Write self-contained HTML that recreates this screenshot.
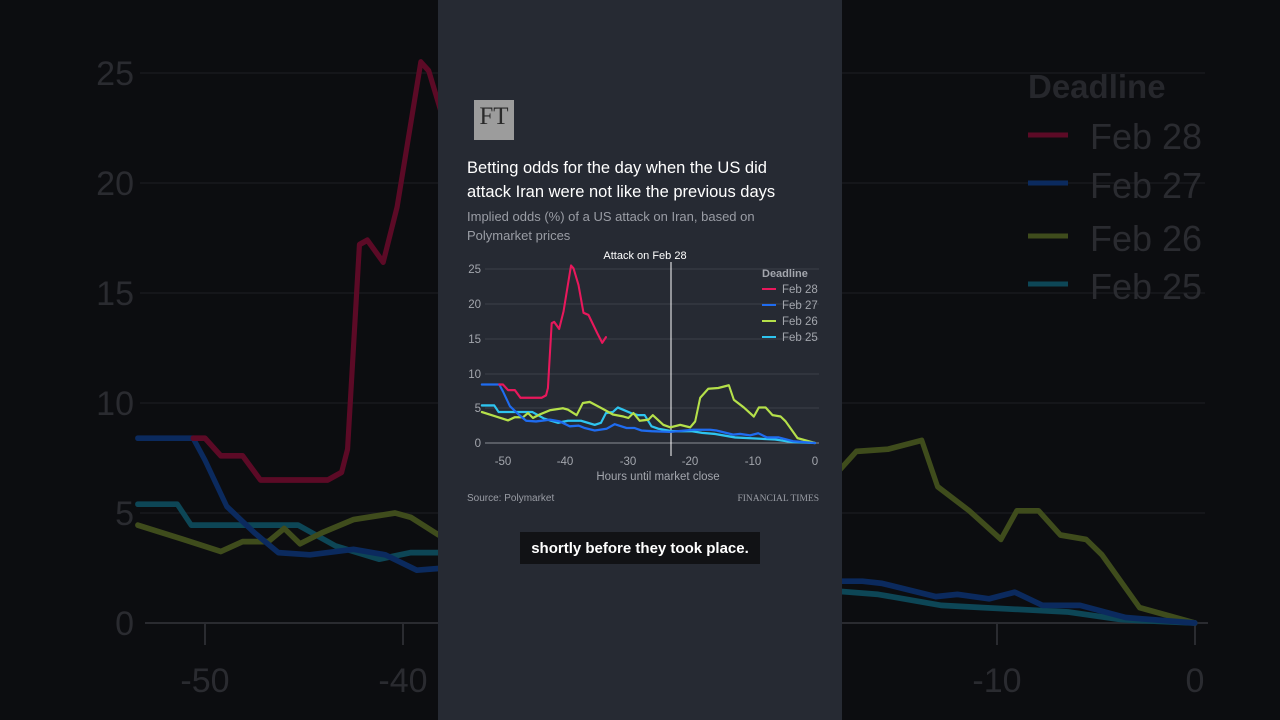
<!DOCTYPE html>
<html><head><meta charset="utf-8"><style>
html,body{margin:0;padding:0;width:1280px;height:720px;overflow:hidden;background:#0c0d10;}
svg{position:absolute;left:0;top:0;}
text{font-family:"Liberation Sans","DejaVu Sans",sans-serif;}
</style></head><body>
<svg width="1280" height="720" viewBox="0 0 1280 720">
<defs>
<polyline id="red" points="-50.6,8.4 -50,8.4 -49.2,7.6 -48.1,7.6 -47.2,6.5 -43.8,6.5 -43.1,6.85 -42.8,7.9 -42.2,17.2 -41.8,17.4 -41,16.4 -40.3,18.9 -39.1,25.5 -38.7,25.1 -37.9,22.7 -37.1,18.7 -36.3,18.4 -34.9,15.8 -34.1,14.4 -33.5,15.2"/>
<polyline id="blue" points="-53.4,8.4 -50.6,8.4 -50,7.4 -48.9,5.3 -47.5,4.1 -46.3,3.2 -44.7,3.1 -42.5,3.35 -40.9,3.1 -39.3,2.4 -37.9,2.5 -36.9,2.15 -35.3,1.8 -33.4,2.05 -32.1,2.7 -30.2,2.15 -28.9,2.15 -27.8,1.8 -26.2,1.7 -23.2,1.6 -19.5,1.9 -16.8,1.9 -15.8,1.8 -13.1,1.2 -12,1.3 -10.4,1.1 -9.1,1.4 -7.7,0.8 -5.8,0.8 -3.5,0.25 0,0"/>
<polyline id="green" points="-53.4,4.45 -51.1,3.8 -49.2,3.25 -48.1,3.7 -46.8,3.7 -46,4.3 -45.2,3.6 -44.1,4.1 -42.5,4.7 -40.4,5 -39.6,4.8 -38.2,4 -37.2,5.75 -36.1,5.9 -34,4.9 -32.4,4.1 -30.7,3.8 -29.9,3.6 -29.1,4.3 -28.1,3.2 -26.7,3.35 -26,4 -24.3,2.6 -23.2,2.25 -21.6,2.6 -20,2.25 -19.2,3.1 -18.4,6.5 -17.1,7.8 -15.5,7.9 -13.8,8.3 -13,6.2 -11.4,5.1 -9.8,3.8 -9,5.1 -7.9,5.1 -6.8,4 -5.5,3.8 -4.7,3.1 -2.8,0.7 0,0"/>
<polyline id="cyan" points="-53.4,5.4 -51.4,5.4 -50.7,4.45 -45.3,4.45 -43.4,3.5 -41.2,2.9 -39.6,3.2 -37.5,3.2 -35.3,2.6 -34.3,2.9 -33.5,4.3 -32.4,4.45 -31.6,5.1 -29.5,4.3 -28.4,4 -27.3,4 -26.2,2.4 -25.1,2.05 -23,1.7 -19.8,1.7 -18.1,1.45 -16,1.3 -12.8,0.8 -10.7,0.7 -6.4,0.5 -3.7,0.15 0,0"/>
</defs>
<g stroke="#18191d" stroke-width="1.5">
<line x1="140" y1="73" x2="1205" y2="73"/><line x1="140" y1="183" x2="1205" y2="183"/><line x1="140" y1="293" x2="1205" y2="293"/><line x1="140" y1="403" x2="1205" y2="403"/><line x1="140" y1="513" x2="1205" y2="513"/>
</g>
<line x1="145" y1="623" x2="1208" y2="623" stroke="#2a2b30" stroke-width="2"/>
<g stroke="#2a2b30" stroke-width="2"><line x1="205" y1="623" x2="205" y2="645"/><line x1="403" y1="623" x2="403" y2="645"/><line x1="997" y1="623" x2="997" y2="645"/><line x1="1195" y1="623" x2="1195" y2="645"/></g>
<g fill="#2a2b30" font-size="34" text-anchor="end">
<text x="134" y="85">25</text><text x="134" y="195">20</text><text x="134" y="305">15</text><text x="134" y="415">10</text><text x="134" y="525">5</text><text x="134" y="635">0</text>
</g>
<g fill="#2a2b30" font-size="34" text-anchor="middle">
<text x="205" y="692">-50</text><text x="403" y="692">-40</text><text x="997" y="692">-10</text><text x="1195" y="692">0</text>
</g>
<g transform="translate(1195,623) scale(19.8,-22)" fill="none" stroke-linejoin="round" stroke-linecap="round">
<use href="#cyan" stroke="#0d4656" style="stroke-width:0.26"/>
<use href="#green" stroke="#3f4c1c" style="stroke-width:0.26"/>
<use href="#blue" stroke="#0b2a5e" style="stroke-width:0.26"/>
<use href="#red" stroke="#5c0a26" style="stroke-width:0.26"/>
</g>
<text x="1028" y="98" fill="#26272c" font-size="33" font-weight="bold">Deadline</text>
<g stroke-width="5"><line x1="1028" y1="135" x2="1068" y2="135" stroke="#5c0a26"/><line x1="1028" y1="183" x2="1068" y2="183" stroke="#0b2a5e"/><line x1="1028" y1="236" x2="1068" y2="236" stroke="#3f4c1c"/><line x1="1028" y1="284" x2="1068" y2="284" stroke="#0d4656"/></g>
<g fill="#2a2b30" font-size="36"><text x="1090" y="149">Feb 28</text><text x="1090" y="198">Feb 27</text><text x="1090" y="251">Feb 26</text><text x="1090" y="299">Feb 25</text></g>

<rect x="438" y="0" width="404" height="720" fill="#262a33"/>
<rect x="474" y="100" width="40" height="40" fill="#9c9c9c"/>
<text x="494" y="124" text-anchor="middle" font-size="25" fill="#2a2a2a" style="font-family:'Liberation Serif',serif">FT</text>
<g fill="#ffffff" font-size="16.5"><text x="467" y="173">Betting odds for the day when the US did</text><text x="467" y="197">attack Iran were not like the previous days</text></g>
<g fill="#9a9da5" font-size="13"><text x="467" y="221">Implied odds (%) of a US attack on Iran, based on</text><text x="467" y="240">Polymarket prices</text></g>
<g stroke="#3c404a" stroke-width="1"><line x1="485" y1="269" x2="819" y2="269"/><line x1="485" y1="304" x2="819" y2="304"/><line x1="485" y1="339" x2="819" y2="339"/><line x1="485" y1="374" x2="819" y2="374"/><line x1="485" y1="408" x2="819" y2="408"/></g>
<line x1="485" y1="443" x2="819" y2="443" stroke="#8a8d94" stroke-width="1"/>
<g fill="#a3a6ad" font-size="11.5" text-anchor="end"><text x="481" y="273">25</text><text x="481" y="308">20</text><text x="481" y="343">15</text><text x="481" y="378">10</text><text x="481" y="412">5</text><text x="481" y="447">0</text></g>
<g fill="#a3a6ad" font-size="11.5" text-anchor="middle"><text x="503" y="465">-50</text><text x="565" y="465">-40</text><text x="628" y="465">-30</text><text x="690" y="465">-20</text><text x="753" y="465">-10</text><text x="815" y="465">0</text></g>
<text x="658" y="480" fill="#a3a6ad" font-size="11.5" text-anchor="middle">Hours until market close</text>
<line x1="671" y1="262" x2="671" y2="456" stroke="#ffffff" stroke-width="1"/>
<text x="645" y="259" fill="#ffffff" font-size="11" text-anchor="middle">Attack on Feb 28</text>
<g transform="translate(815,443) scale(6.24,-6.96)" fill="none" stroke-linejoin="round" stroke-linecap="round">
<use href="#cyan" stroke="#2ec4ef" style="stroke-width:0.33"/>
<use href="#green" stroke="#b5e04a" style="stroke-width:0.33"/>
<use href="#blue" stroke="#1f6cf0" style="stroke-width:0.33"/>
<use href="#red" stroke="#e8185c" style="stroke-width:0.33"/>
</g>
<text x="762" y="277" fill="#a3a6ad" font-size="11" font-weight="bold">Deadline</text>
<g stroke-width="2"><line x1="762" y1="289" x2="776" y2="289" stroke="#e8185c"/><line x1="762" y1="305" x2="776" y2="305" stroke="#1f6cf0"/><line x1="762" y1="321" x2="776" y2="321" stroke="#b5e04a"/><line x1="762" y1="337" x2="776" y2="337" stroke="#2ec4ef"/></g>
<g fill="#a3a6ad" font-size="11.5"><text x="782" y="293">Feb 28</text><text x="782" y="309">Feb 27</text><text x="782" y="325">Feb 26</text><text x="782" y="341">Feb 25</text></g>
<text x="467" y="501" fill="#9a9da5" font-size="10">Source: Polymarket</text>
<text x="819" y="501" fill="#9a9da5" font-size="9.5" text-anchor="end" style="font-family:'Liberation Serif',serif">FINANCIAL TIMES</text>
<rect x="520" y="532" width="240" height="32" fill="#111215"/>
<text x="640" y="553" fill="#ffffff" font-size="15" font-weight="bold" text-anchor="middle">shortly before they took place.</text>
</svg>
</body></html>
